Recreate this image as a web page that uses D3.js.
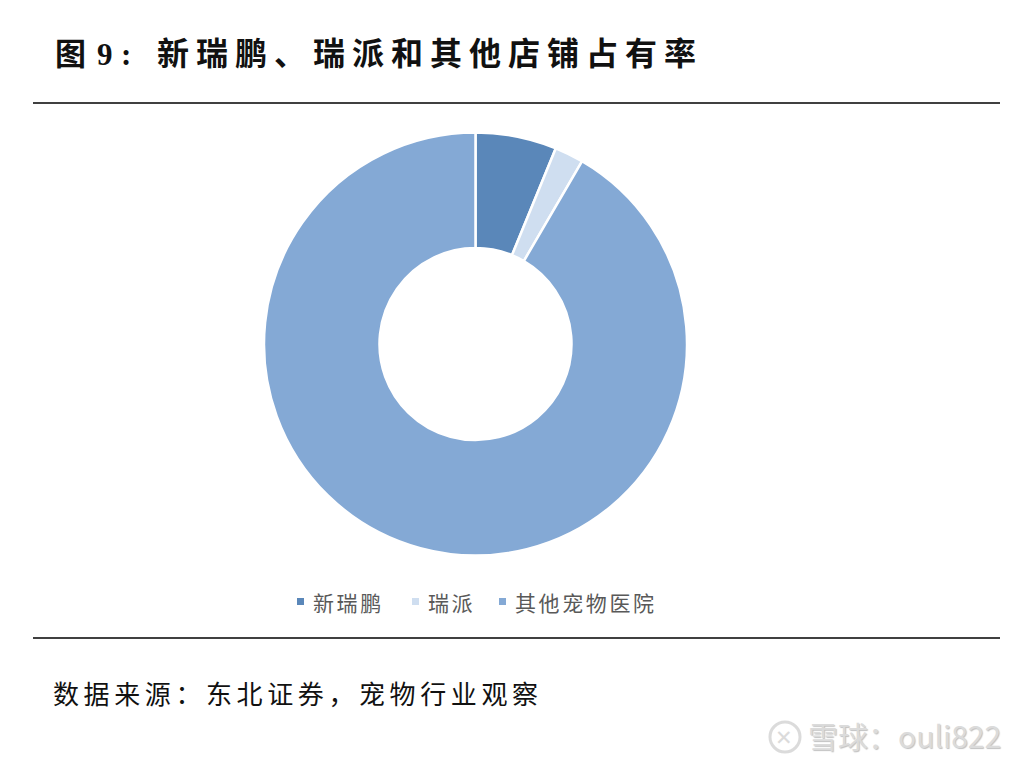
<!DOCTYPE html>
<html><head><meta charset="utf-8">
<script src="https://cdn.jsdelivr.net/npm/d3@7"></script>
<style>body{margin:0;background:#fff;}svg{display:block;}</style>
</head><body>
<script>
const categories = ["新瑞鹏", "瑞派", "其他宠物医院"];
const values = [6.2, 2.2, 91.6];
const colors = ["#5a87b9", "#cfdef0", "#84a9d5"];
const titlePrefix = ["图", "9", ":"];
const titleText = "新瑞鹏、瑞派和其他店铺占有率";
const sourceText = "数据来源：东北证券，宠物行业观察";

const W = 1030, H = 768;
const svg = d3.select("body").append("svg").attr("width", W).attr("height", H);
svg.append("rect").attr("width", W).attr("height", H).attr("fill", "#fff");

const tg = svg.append("g").attr("fill", "#111").attr("font-weight", 700);
tg.append("text").attr("x", 55).attr("y", 65).attr("font-family", "Noto Sans CJK SC").attr("font-size", 31).text(titlePrefix[0]);
tg.append("text").attr("x", 97).attr("y", 65).attr("font-family", "Liberation Serif").attr("font-size", 31).text(titlePrefix[1]);
tg.append("text").attr("x", 121).attr("y", 65).attr("font-family", "Liberation Serif").attr("font-size", 31).text(titlePrefix[2]);
tg.append("text").attr("x", 157).attr("y", 65)
  .attr("font-family", "Noto Sans CJK SC").attr("font-size", 32).attr("letter-spacing", 7)
  .text(titleText);

svg.append("line").attr("x1", 33).attr("x2", 1000).attr("y1", 103).attr("y2", 103)
  .attr("stroke", "#000").attr("stroke-width", 1.5);
svg.append("line").attr("x1", 33).attr("x2", 1000).attr("y1", 638).attr("y2", 638)
  .attr("stroke", "#000").attr("stroke-width", 1.5);

const cx = 475.5, cy = 344, rO = 211.5, rI = 96;
const pie = d3.pie().sort(null).value(d => d)(values);
const arc = d3.arc().innerRadius(rI).outerRadius(rO);
const g = svg.append("g").attr("transform", `translate(${cx},${cy})`);
g.selectAll("path").data(pie).enter().append("path")
  .attr("d", arc).attr("fill", (d, i) => colors[i])
  .attr("stroke", "#fff").attr("stroke-width", 2.5).attr("stroke-linejoin", "round");

// legend
const legendX = [297, 412, 499];
const lg = svg.append("g");
categories.forEach((c, i) => {
  lg.append("rect").attr("x", legendX[i]).attr("y", 598).attr("width", 7).attr("height", 7).attr("fill", colors[i]);
  lg.append("text").attr("x", legendX[i] + 16).attr("y", 611)
    .attr("font-family", "Noto Sans CJK SC").attr("font-size", 21).attr("fill", "#595959")
    .attr("letter-spacing", 2.6)
    .text(c);
});

svg.append("text").attr("x", 53).attr("y", 704)
  .attr("font-family", "Noto Sans CJK SC").attr("font-size", 26).attr("fill", "#111")
  .attr("letter-spacing", 4.6)
  .text(sourceText);

// watermark
const wm = svg.append("g").attr("opacity", 0.9);
wm.append("circle").attr("cx", 785).attr("cy", 737).attr("r", 15).attr("fill", "none").attr("stroke", "#d8d8d8").attr("stroke-width", 3);
wm.append("text").attr("x", 775).attr("y", 745).attr("font-family", "DejaVu Sans").attr("font-size", 21).attr("font-weight", 700).attr("fill", "#d8d8d8").text("✕");
wm.append("text").attr("x", 808).attr("y", 748)
  .attr("font-family", "Noto Sans CJK SC").attr("font-size", 30).attr("fill", "#d8d8d8")
  .style("text-shadow", "1px 1px 1px #bbb")
  .text("雪球：ouli822");
</script>
</body></html>
